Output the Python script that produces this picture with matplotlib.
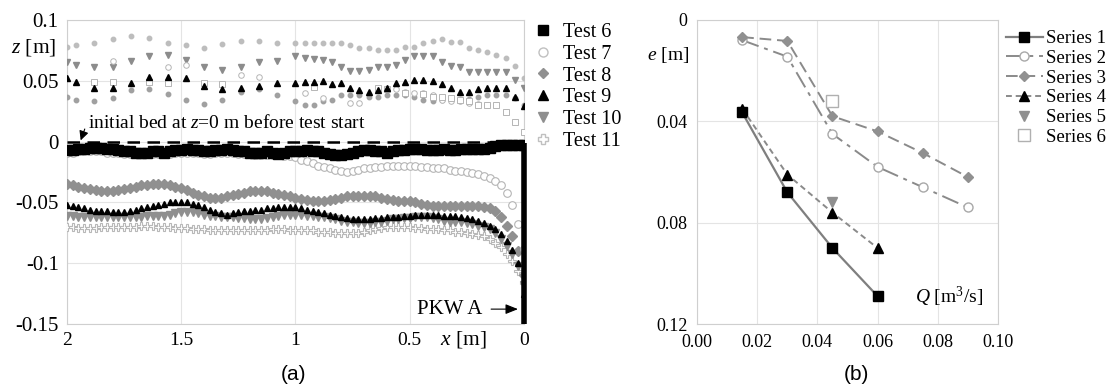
import numpy as np
import matplotlib.pyplot as plt
from matplotlib.lines import Line2D

plt.rcParams['font.family'] = ['Liberation Serif', 'DejaVu Serif']
plt.rcParams['mathtext.fontset'] = 'custom'
plt.rcParams['mathtext.rm'] = 'Liberation Serif'
plt.rcParams['mathtext.it'] = 'Liberation Serif:italic'

nan = np.nan

# ---- panel (a): bed profiles, stations every 0.025 m ----
x_bed = [2.000, 1.975, 1.950, 1.925, 1.900, 1.875, 1.850, 1.825, 1.800, 1.775,
         1.750, 1.725, 1.700, 1.675, 1.650, 1.625, 1.600, 1.575, 1.550, 1.525,
         1.500, 1.475, 1.450, 1.425, 1.400, 1.375, 1.350, 1.325, 1.300, 1.275,
         1.250, 1.225, 1.200, 1.175, 1.150, 1.125, 1.100, 1.075, 1.050, 1.025,
         1.000, 0.975, 0.950, 0.925, 0.900, 0.875, 0.850, 0.825, 0.800, 0.775,
         0.750, 0.725, 0.700, 0.675, 0.650, 0.625, 0.600, 0.575, 0.550, 0.525,
         0.500, 0.475, 0.450, 0.425, 0.400, 0.375, 0.350, 0.325, 0.300, 0.275,
         0.250, 0.225, 0.200, 0.175, 0.150, 0.125, 0.100, 0.075, 0.050, 0.025,
         0.000]

bed_t6 = [-0.007, -0.007, -0.006, -0.006, -0.005, -0.005, -0.005, -0.006, -0.006, -0.007,
          -0.008, -0.008, -0.009, -0.009, -0.009, -0.008, -0.008, -0.009, -0.008, -0.007,
          -0.007, -0.006, -0.007, -0.007, -0.008, -0.008, -0.007, -0.007, -0.006, -0.007,
          -0.008, -0.008, -0.009, -0.009, -0.009, -0.008, -0.009, -0.010, -0.009, -0.008,
          -0.008, -0.008, -0.007, -0.008, -0.008, -0.009, -0.010, -0.011, -0.011, -0.010,
          -0.009, -0.008, -0.007, -0.007, -0.008, -0.008, -0.009, -0.008, -0.007, -0.007,
          -0.006, -0.006, -0.006, -0.007, -0.007, -0.007, -0.006, -0.007, -0.007, -0.006,
          -0.006, -0.006, -0.006, -0.006, -0.005, -0.004, -0.003, -0.003, -0.003, -0.003,
          -0.003]
bed_t7 = [-0.009, -0.009, -0.008, -0.008, -0.008, -0.008, -0.008, -0.009, -0.009, -0.009,
          -0.010, -0.010, -0.010, -0.010, -0.010, -0.010, -0.010, -0.010, -0.010, -0.009,
          -0.009, -0.009, -0.009, -0.009, -0.010, -0.010, -0.009, -0.009, -0.009, -0.009,
          -0.010, -0.010, -0.010, -0.011, -0.011, -0.011, -0.011, -0.011, -0.012, -0.012,
          -0.013, -0.015, -0.016, -0.018, -0.020, -0.021, -0.022, -0.023, -0.024, -0.025,
          -0.024, -0.023, -0.022, -0.022, -0.021, -0.021, -0.020, -0.020, -0.020, -0.020,
          -0.020, -0.020, -0.021, -0.021, -0.022, -0.022, -0.022, -0.023, -0.024, -0.024,
          -0.025, -0.026, -0.027, -0.028, -0.030, -0.032, -0.036, -0.042, -0.052, -0.068,
          -0.088]
bed_t8 = [-0.035, -0.036, -0.037, -0.038, -0.039, -0.040, -0.041, -0.041, -0.041, -0.040,
          -0.039, -0.038, -0.037, -0.036, -0.036, -0.035, -0.035, -0.035, -0.036, -0.037,
          -0.038, -0.040, -0.042, -0.044, -0.045, -0.046, -0.046, -0.046, -0.045, -0.044,
          -0.043, -0.042, -0.041, -0.041, -0.041, -0.041, -0.042, -0.043, -0.044, -0.045,
          -0.046, -0.047, -0.048, -0.049, -0.049, -0.049, -0.048, -0.047, -0.046, -0.045,
          -0.045, -0.045, -0.045, -0.045, -0.045, -0.046, -0.047, -0.048, -0.049, -0.049,
          -0.049, -0.050, -0.051, -0.052, -0.053, -0.053, -0.053, -0.053, -0.053, -0.053,
          -0.053, -0.053, -0.053, -0.054, -0.055, -0.057, -0.062, -0.069, -0.078, -0.090,
          -0.110]
bed_t9 = [-0.052, -0.053, -0.054, -0.055, -0.056, -0.057, -0.057, -0.057, -0.058, -0.058,
          -0.058, -0.057, -0.056, -0.055, -0.054, -0.053, -0.052, -0.051, -0.050, -0.050,
          -0.050, -0.050, -0.051, -0.052, -0.054, -0.056, -0.058, -0.059, -0.060, -0.059,
          -0.058, -0.057, -0.057, -0.056, -0.056, -0.055, -0.055, -0.054, -0.054, -0.054,
          -0.054, -0.055, -0.056, -0.057, -0.058, -0.059, -0.060, -0.061, -0.062, -0.063,
          -0.064, -0.064, -0.064, -0.064, -0.063, -0.063, -0.062, -0.062, -0.062, -0.061,
          -0.061, -0.060, -0.060, -0.060, -0.060, -0.060, -0.061, -0.061, -0.061, -0.062,
          -0.063, -0.064, -0.065, -0.067, -0.069, -0.072, -0.076, -0.082, -0.089, -0.100,
          -0.125]
bed_t10 = [-0.061, -0.061, -0.062, -0.062, -0.062, -0.062, -0.062, -0.062, -0.062, -0.062,
           -0.062, -0.062, -0.062, -0.062, -0.061, -0.061, -0.061, -0.061, -0.060, -0.059,
           -0.058, -0.058, -0.058, -0.059, -0.060, -0.061, -0.061, -0.062, -0.062, -0.062,
           -0.063, -0.063, -0.064, -0.064, -0.064, -0.063, -0.062, -0.061, -0.060, -0.060,
           -0.060, -0.060, -0.061, -0.061, -0.062, -0.062, -0.063, -0.064, -0.065, -0.066,
           -0.066, -0.067, -0.067, -0.067, -0.066, -0.066, -0.065, -0.064, -0.064, -0.063,
           -0.063, -0.062, -0.062, -0.062, -0.063, -0.064, -0.065, -0.066, -0.066, -0.066,
           -0.067, -0.068, -0.069, -0.070, -0.072, -0.075, -0.080, -0.086, -0.092, -0.102,
           -0.118]
bed_t11 = [-0.070, -0.070, -0.071, -0.071, -0.071, -0.071, -0.070, -0.070, -0.070, -0.070,
           -0.070, -0.070, -0.070, -0.069, -0.069, -0.069, -0.070, -0.070, -0.070, -0.071,
           -0.071, -0.071, -0.072, -0.072, -0.072, -0.073, -0.073, -0.073, -0.073, -0.073,
           -0.073, -0.073, -0.073, -0.073, -0.073, -0.073, -0.072, -0.072, -0.072, -0.073,
           -0.073, -0.073, -0.073, -0.073, -0.074, -0.074, -0.074, -0.075, -0.075, -0.075,
           -0.075, -0.075, -0.074, -0.073, -0.072, -0.071, -0.070, -0.070, -0.070, -0.070,
           -0.070, -0.071, -0.071, -0.072, -0.072, -0.072, -0.073, -0.073, -0.074, -0.074,
           -0.075, -0.076, -0.077, -0.078, -0.080, -0.083, -0.087, -0.092, -0.098, -0.106,
           -0.116]

# ---- panel (a): upper (sparse) points ----
x_ws = [2.00, 1.96, 1.88, 1.80, 1.72, 1.64, 1.56, 1.48, 1.40, 1.32, 1.24, 1.16, 1.08,
        1.00, 0.96, 0.92, 0.88, 0.84, 0.80, 0.76, 0.72, 0.68, 0.64, 0.60, 0.56, 0.52,
        0.48, 0.44, 0.40, 0.36, 0.32, 0.28, 0.24, 0.20, 0.16, 0.12, 0.08, 0.04, 0.00]
ws_t11 = [0.078, 0.079, 0.081, 0.084, 0.087, 0.085, 0.081, 0.079, 0.077, 0.080, 0.083, 0.083, 0.081,
          0.081, 0.081, 0.081, 0.081, 0.081, 0.081, 0.079, 0.077, 0.077, 0.075, 0.075, 0.075, 0.078,
          0.078, 0.081, 0.083, 0.084, 0.082, 0.082, 0.077, 0.075, 0.074, 0.071, 0.069, 0.062, 0.052]
ws_t10 = [0.065, 0.063, 0.061, 0.061, 0.066, 0.070, 0.071, 0.067, 0.061, 0.059, 0.061, 0.065, 0.066,
          0.070, 0.069, 0.068, 0.067, 0.065, 0.061, 0.058, 0.058, 0.059, 0.061, 0.061, 0.063, 0.067,
          0.070, 0.070, 0.070, 0.065, 0.062, 0.061, 0.057, 0.057, 0.057, 0.057, 0.057, 0.051, 0.044]
ws_t9 = [0.052, 0.049, 0.044, 0.044, 0.048, 0.053, 0.053, 0.052, 0.046, 0.043, 0.044, 0.046, 0.048,
         0.048, 0.049, 0.049, 0.050, 0.047, 0.048, 0.044, 0.042, 0.041, 0.042, 0.044, 0.048, 0.049,
         0.051, 0.051, 0.050, 0.047, 0.044, 0.041, 0.041, 0.043, 0.044, 0.044, 0.044, 0.037, 0.029]
ws_t8 = [0.037, 0.034, 0.033, 0.036, 0.042, 0.043, 0.039, 0.034, 0.031, 0.034, 0.041, 0.043, 0.038,
         0.033, 0.030, 0.030, 0.033, 0.034, 0.038, 0.038, 0.038, 0.037, 0.037, 0.038, 0.038, 0.038,
         0.037, 0.034, 0.033, 0.034, 0.034, 0.035, 0.035, 0.037, 0.038, 0.038, 0.038, 0.036, 0.030]
ws_t7 = [nan, nan, nan, 0.066, nan, nan, 0.061, 0.063, nan, nan, 0.055, 0.053, nan,
         nan, 0.040, nan, 0.036, nan, nan, 0.032, 0.032, nan, nan, nan, 0.043, 0.041,
         0.040, 0.040, 0.038, 0.034, 0.033, 0.033, 0.032, 0.031, 0.030, nan, nan, nan, nan]
ws_t6 = [nan, nan, 0.049, 0.049, nan, 0.049, 0.048, nan, 0.048, 0.047, nan, nan, nan,
         nan, nan, 0.045, nan, nan, nan, nan, nan, nan, 0.044, 0.043, nan, 0.040,
         nan, 0.039, 0.037, 0.037, 0.036, 0.034, 0.033, 0.030, 0.030, 0.030, 0.024, 0.016, 0.008]

init_x = [2.0, 0.0]
init_z = [0.0, 0.0]
wall_x = [0.0, 0.0]
wall_z = [-0.001, -0.15]

a_xticks = [2, 1.5, 1, 0.5, 0]
a_xlabels = ['2', '1.5', '1', '0.5', '0']
a_yticks = [0.1, 0.05, 0, -0.05, -0.1, -0.15]
a_ylabels = ['0.1', '0.05', '0', '-0.05', '-0.1', '-0.15']

# ---- panel (b) ----
q1 = [0.015, 0.03, 0.045, 0.06]
e1 = [0.0365, 0.068, 0.090, 0.109]
q2 = [0.015, 0.03, 0.045, 0.06, 0.075, 0.09]
e2 = [0.008, 0.0145, 0.045, 0.058, 0.066, 0.074]
q3 = [0.015, 0.03, 0.045, 0.06, 0.075, 0.09]
e3 = [0.0068, 0.0083, 0.038, 0.044, 0.0525, 0.062]
q4 = [0.015, 0.03, 0.045, 0.06]
e4 = [0.035, 0.061, 0.076, 0.090]
q5 = [0.045]
e5 = [0.072]
q6 = [0.045]
e6 = [0.032]
b_xticks = [0.0, 0.02, 0.04, 0.06, 0.08, 0.10]
b_xlabels = ['0.00', '0.02', '0.04', '0.06', '0.08', '0.10']
b_yticks = [0, 0.04, 0.08, 0.12]
b_ylabels = ['0', '0.04', '0.08', '0.12']

grid_c = '#e4e4e4'
spine_c = '#cfcfcf'

fig = plt.figure(figsize=(11.09, 3.9), dpi=100)
ax = fig.add_axes([0.0604, 0.169, 0.412, 0.780])
bx = fig.add_axes([0.6285, 0.169, 0.2714, 0.780])

# panel (a)
ax.plot(init_x, init_z, color='black', lw=1.8, dashes=(5, 3), zorder=3)
ax.plot(x_bed, bed_t11, ls='none', marker='P', ms=6, mfc='white', mec='#b8b8b8', mew=0.8, zorder=4)
ax.plot(x_bed, bed_t10, ls='none', marker='v', ms=5.5, color='#8f8f8f', zorder=5)
ax.plot(x_bed, bed_t9, ls='none', marker='^', ms=5, color='black', zorder=6)
ax.plot(x_bed, bed_t8, ls='none', marker='D', ms=5, color='#909090', zorder=5)
ax.plot(x_bed, bed_t7, ls='none', marker='o', ms=5.5, mfc='white', mec='#b5b5b5', mew=0.8, zorder=5)
ax.plot(x_bed, bed_t6, ls='none', marker='s', ms=6.5, color='black', zorder=7)

ax.plot(x_ws, ws_t11, ls='none', marker='o', ms=3.2, color='#bdbdbd', zorder=4)
ax.plot(x_ws, ws_t10, ls='none', marker='v', ms=4, color='#8c8c8c', zorder=4)
ax.plot(x_ws, ws_t9, ls='none', marker='^', ms=4, color='black', zorder=5)
ax.plot(x_ws, ws_t8, ls='none', marker='o', ms=3.2, color='#a0a0a0', zorder=4)
ax.plot(x_ws, ws_t7, ls='none', marker='o', ms=4, mfc='white', mec='#b5b5b5', mew=0.7, zorder=4)
ax.plot(x_ws, ws_t6, ls='none', marker='s', ms=4, mfc='white', mec='#b5b5b5', mew=0.7, zorder=4)

ax.plot(wall_x, wall_z, color='black', lw=4, solid_capstyle='butt', clip_on=False, zorder=8)

ax.set_xlim(2, 0)
ax.set_ylim(-0.15, 0.1)
ax.set_xticks(a_xticks)
ax.set_xticklabels(a_xlabels)
ax.set_yticks(a_yticks)
ax.set_yticklabels(a_ylabels)
ax.grid(True, color=grid_c, lw=0.8)
ax.set_axisbelow(True)
ax.tick_params(length=0, pad=6)
ax.tick_params(axis='y', labelsize=15)
ax.tick_params(axis='x', labelsize=14)
for s in ax.spines.values():
    s.set_color(spine_c)

ax.annotate('initial bed at $z$=0 m before test start', xy=(1.94, 0.001), xytext=(1.91, 0.0155),
            fontsize=14, va='center', ha='left',
            arrowprops=dict(arrowstyle='-|>,head_length=0.4,head_width=0.2', color='black', lw=0.8,
                            shrinkA=0, shrinkB=0, relpos=(-0.01, 0.15)))
ax.annotate('PKW A', xy=(0.026, -0.1377), xytext=(0.18, -0.1377), fontsize=15, va='center', ha='right',
            arrowprops=dict(arrowstyle='-|>,head_length=0.5,head_width=0.2', color='black', lw=0.8,
                            shrinkA=4, shrinkB=0))

leg_a = [
    Line2D([], [], ls='none', marker='s', ms=6.5, color='black'),
    Line2D([], [], ls='none', marker='o', ms=6.5, mfc='white', mec='#c0c0c0'),
    Line2D([], [], ls='none', marker='D', ms=5.5, color='#909090'),
    Line2D([], [], ls='none', marker='^', ms=6.5, color='black'),
    Line2D([], [], ls='none', marker='v', ms=6.5, color='#8f8f8f'),
    Line2D([], [], ls='none', marker='P', ms=7.5, mfc='white', mec='#c0c0c0'),
]
fig.legend(leg_a, ['Test 6', 'Test 7', 'Test 8', 'Test 9', 'Test 10', 'Test 11'],
           loc='upper left', bbox_to_anchor=(536.5 / 1109, 1 - 23 / 390), frameon=False, fontsize=14.5,
           handlelength=0.6, handletextpad=0.72, labelspacing=0.13, borderaxespad=0, borderpad=0)

fig.text(56 / 1109, 1 - 48 / 390, '$z$ [m]', fontsize=15.5, ha='right', va='center')
fig.text(463 / 1109, 1 - 340 / 390, '$x$ [m]', fontsize=15.5, ha='center', va='center')

# panel (b)
bx.plot(q1, e1, color='#7f7f7f', lw=1.6, marker='s', ms=7, mfc='black', mec='black', label='Series 1')
bx.plot(q2, e2, color='#8a8a8a', lw=1.4, dashes=(9, 3, 2, 3), marker='o', ms=6.5, mfc='white',
        mec='#a8a8a8', label='Series 2')
bx.plot(q3, e3, color='#8a8a8a', lw=1.4, dashes=(6, 3), marker='D', ms=5.5, mfc='#909090',
        mec='#909090', label='Series 3')
bx.plot(q4, e4, color='#8a8a8a', lw=1.4, dashes=(3, 2), marker='^', ms=6.5, mfc='black',
        mec='black', label='Series 4')
bx.plot(q5, e5, ls='none', marker='v', ms=6.5, color='#8f8f8f', label='Series 5')
bx.plot(q6, e6, ls='none', marker='s', ms=8, mfc='white', mec='#b0b0b0', label='Series 6')

bx.set_xlim(0, 0.1)
bx.set_ylim(0.12, 0)
bx.set_xticks(b_xticks)
bx.set_xticklabels(b_xlabels)
bx.set_yticks(b_yticks)
bx.set_yticklabels(b_ylabels)
bx.grid(True, color=grid_c, lw=0.8)
bx.set_axisbelow(True)
bx.tick_params(length=0, labelsize=13, pad=7)
for s in bx.spines.values():
    s.set_color(spine_c)
fig.legend(*bx.get_legend_handles_labels(), loc='upper left',
           bbox_to_anchor=(1006 / 1109, 1 - 30 / 390), frameon=False, fontsize=13.5,
           handlelength=1.95, handletextpad=0.2, labelspacing=0.14, borderaxespad=0, borderpad=0)

fig.text(689 / 1109, 1 - 55 / 390, '$e$ [m]', fontsize=14, ha='right', va='center')
bx.text(0.95, 0.089, '$Q$ [m$^3$/s]', transform=bx.transAxes, fontsize=14, ha='right', va='center')

fig.text(294 / 1109, 1 - 375 / 390, '(a)', fontsize=15, ha='center', va='center', family='Liberation Sans')
fig.text(856 / 1109, 1 - 375 / 390, '(b)', fontsize=15, ha='center', va='center', family='Liberation Sans')

fig.savefig('out.png', dpi=100)
